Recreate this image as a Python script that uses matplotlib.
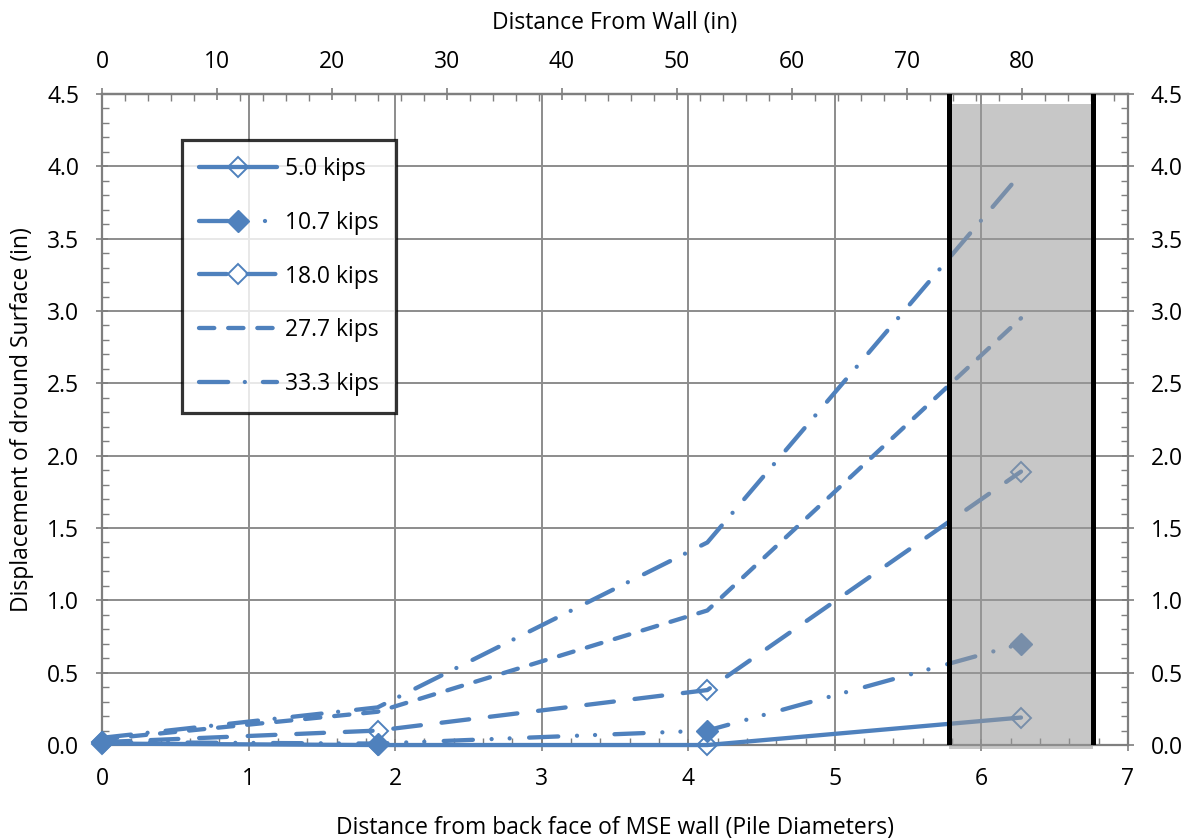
import numpy as np
import matplotlib
matplotlib.use("Agg")
import matplotlib.pyplot as plt
from matplotlib.ticker import MultipleLocator, FixedLocator, FormatStrFormatter
from matplotlib.patches import Rectangle

plt.rcParams['font.family'] = ['Open Sans', 'DejaVu Sans']
plt.rcParams['lines.scale_dashes'] = False

# ---- data ----
x_dia = [0.0, 1.88, 4.13, 6.27]          # distance (pile diameters)
pile_diam_in = 12.75                      # inches per pile diameter
labels = ["5.0 kips", "10.7 kips", "18.0 kips", "27.7 kips", "33.3 kips"]
disp_5_0 = [0.01, 0.00, 0.00, 0.19]
disp_10_7 = [0.02, 0.01, 0.10, 0.70]
disp_18_0 = [0.02, 0.10, 0.38, 1.89]
disp_27_7 = [0.04, 0.23, 0.93, 2.95]
disp_33_3 = [0.05, 0.26, 1.40, 3.95]
top_ticks = [0, 10, 20, 30, 40, 50, 60, 70, 80]
shade_x = [5.78, 6.76]
shade_top = 4.43

color = '#4F81BD'
fs = 16.5

fig = plt.figure(figsize=(11.93, 8.39), dpi=100)
ax = fig.add_axes([0.0855, 0.112, 0.86, 0.776])

lw = 3.1
common = dict(color=color, lw=lw, clip_on=False, dash_capstyle='round', solid_capstyle='round', zorder=3)
ax.plot(x_dia, disp_5_0, ls='-', marker='D', ms=10, mfc='none', mec=color, mew=1.4, label=labels[0], **common)
ax.plot(x_dia, disp_10_7, dashes=(21, 13.5, 0.01, 13, 0.01, 14), marker='D', ms=11.5, mfc=color, mec=color,
        label=labels[1], **common)
ax.plot(x_dia, disp_18_0, dashes=(20, 15), marker='D', ms=10, mfc='none', mec=color, mew=1.4,
        label=labels[2], **common)
ax.plot(x_dia, disp_27_7, dashes=(11, 10), label=labels[3], **common)
ax.plot(x_dia, disp_33_3, dashes=(21, 12, 0.01, 13), label=labels[4], **common)

# shaded zone
rect = Rectangle((shade_x[0], -0.03), shade_x[1] - shade_x[0], shade_top + 0.03,
                 facecolor='#9a9a9a', alpha=0.55, edgecolor='none', zorder=4, clip_on=False)
ax.add_patch(rect)
for xv in shade_x:
    ax.axvline(xv, color='black', lw=3.6, zorder=5)

ax.set_xlim(0, 7)
ax.set_ylim(0, 4.5)
ax.xaxis.set_major_locator(MultipleLocator(1))
ax.xaxis.set_minor_locator(MultipleLocator(0.2))
ax.yaxis.set_major_locator(MultipleLocator(0.5))
ax.yaxis.set_minor_locator(MultipleLocator(0.1))
ax.yaxis.set_major_formatter(FormatStrFormatter('%.1f'))
ax.grid(True, which='major', color='#8c8c8c', lw=1.4, zorder=1)
ax.set_axisbelow(True)

for s in ax.spines.values():
    s.set_color('#7f7f7f')
    s.set_linewidth(1.6)

ax.tick_params(which='major', direction='inout', length=9, width=1.2, color='#7f7f7f',
               labelsize=fs, pad=11)
ax.tick_params(which='minor', direction='in', length=5, width=1.0, color='#7f7f7f')
ax.tick_params(axis='y', which='both', right=True, labelright=True)
ax.tick_params(axis='y', which='major', pad=12)

ax.set_xlabel('Distance from back face of MSE wall (Pile Diameters)', fontsize=fs, labelpad=18)
ax.set_ylabel('Displacement of dround Surface (in)', fontsize=fs, labelpad=9)

top = ax.secondary_xaxis('top', functions=(lambda d: d * pile_diam_in, lambda i: i / pile_diam_in))
top.xaxis.set_major_locator(FixedLocator(top_ticks))
top.xaxis.set_minor_locator(FixedLocator(np.arange(2, 90, 2)))
top.tick_params(which='major', direction='inout', length=9, width=1.2, color='#7f7f7f',
                labelsize=fs, pad=10)
top.tick_params(which='minor', direction='in', length=5, width=1.0, color='#7f7f7f')
top.spines['top'].set_color('#7f7f7f')
top.spines['top'].set_linewidth(1.6)
top.set_xlabel('Distance From Wall (in)', fontsize=fs, labelpad=15)

leg = ax.legend(loc='upper left', bbox_to_anchor=(0.078, 0.929), fontsize=fs,
                frameon=True, fancybox=False, handlelength=3.4, handletextpad=0.35,
                labelspacing=1.29, borderpad=0.75, borderaxespad=0, numpoints=1)
leg.get_frame().set_edgecolor('black')
leg.get_frame().set_linewidth(2.3)
leg.set_zorder(10)

fig.savefig('out.png', dpi=100)
